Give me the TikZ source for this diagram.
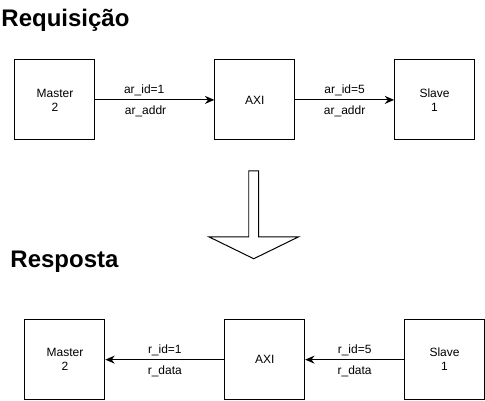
\documentclass[tikz,border=0pt]{standalone}
\usepackage{fontspec}
\setmainfont{Liberation Sans}
\usetikzlibrary{arrows.meta}

\begin{document}
\begin{tikzpicture}[x=0.75pt,y=-0.75pt,line width=0.75pt,
    block/.style={draw,minimum size=60pt,inner sep=0pt,align=center,font=\fontsize{9}{10.5}\selectfont},
    sig/.style={font=\fontsize{9}{10.5}\selectfont,inner sep=1pt},
    title/.style={anchor=west,inner sep=0pt,font=\fontsize{18}{21}\selectfont\bfseries},
    link/.style={-{Stealth[length=7pt,width=6pt]}}]
        \useasboundingbox (0,0) rectangle (485.5,401);

        % requisicao
        \node[title] (req) at (1,20) {Requisição};
        \node[block] (m1) at (55,100) {Master\\2};
        \node[block] (x1) at (255,100) {AXI};
        \node[block] (s1) at (435,100) {Slave\\1};

        \draw[link] (m1) -- (x1)
            node[sig,midway,above=1.5pt,xshift=-8pt] (l1) {ar\_id=1}
            node[sig,midway,below=3pt,xshift=-7pt] (l2) {ar\_addr};
        \draw[link] (x1) -- (s1)
            node[sig,midway,above=1.5pt] (l3) {ar\_id=5}
            node[sig,midway,below=3pt] (l4) {ar\_addr};

        % seta grande
        \draw[fill=white] (249,171) -- (259,171) -- (259,237) -- (299,237)
            -- (254,259) -- (209,237) -- (249,237) -- cycle;

        % resposta
        \node[title] (resp) at (10,262) {Resposta};
        \node[block] (m2) at (65,360) {Master\\2};
        \node[block] (x2) at (265,360) {AXI};
        \node[block] (s2) at (445,360) {Slave\\1};

        \draw[link] (x2) -- (m2)
            node[sig,midway,above=1.5pt] (l5) {r\_id=1}
            node[sig,midway,below=3pt] (l6) {r\_data};
        \draw[link] (s2) -- (x2)
            node[sig,midway,above=1.5pt] (l7) {r\_id=5}
            node[sig,midway,below=3pt] (l8) {r\_data};
    \end{tikzpicture}
\end{document}
